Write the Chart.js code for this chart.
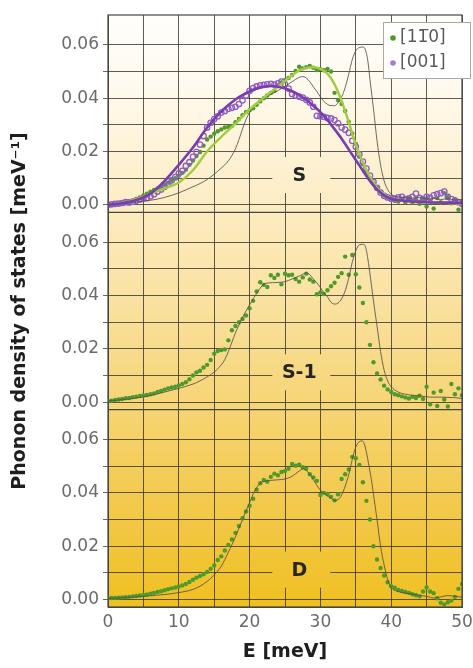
<!DOCTYPE html>
<html>
<head>
<meta charset="utf-8">
<title>Phonon density of states</title>
<script src="https://cdn.jsdelivr.net/npm/chart.js@4.4.1/dist/chart.umd.min.js"></script>
<style>
  html, body { margin: 0; padding: 0; background: #ffffff; }
</style>
</head>
<body>
<canvas id="dos" width="473" height="668"></canvas>
<script>
// ---- measured spectra (E in meV, DOS in meV^-1) ----
const energies = [0,0.5,1,1.5,2,2.5,3,3.5,4,4.5,5,5.5,6,6.5,7,7.5,8,8.5,9,9.5,
  10,10.5,11,11.5,12,12.5,13,13.5,14,14.5,15,15.5,16,16.5,17,17.5,18,18.5,19,19.5,
  20,20.5,21,21.5,22,22.5,23,23.5,24,24.5,25,25.5,26,26.5,27,27.5,28,28.5,29,29.5,
  30,30.5,31,31.5,32,32.5,33,33.5,34,34.5,35,35.5,36,36.5,37,37.5,38,38.5,39,39.5,
  40,40.5,41,41.5,42,42.5,43,43.5,44,44.5,45,45.5,46,46.5,47,47.5,48,48.5,49,49.5,50];

// sample S, [1-10] direction
const dosS110 = [0.0000,0.0001,0.0002,0.0004,0.0006,0.0009,0.0012,0.0016,0.0022,0.0028,
  0.0035,0.0042,0.0049,0.0056,0.0062,0.0068,0.0075,0.0083,0.0092,0.0100,
  0.0110,0.0120,0.0132,0.0150,0.0166,0.0183,0.0198,0.0222,0.0245,0.0256,
  0.0267,0.0276,0.0283,0.0290,0.0292,0.0296,0.0310,0.0322,0.0336,0.0348,
  0.0355,0.0362,0.0375,0.0388,0.0400,0.0410,0.0420,0.0428,0.0448,0.0459,
  0.0468,0.0476,0.0487,0.0502,0.0518,0.0512,0.0516,0.0521,0.0514,0.0506,
  0.0509,0.0505,0.0510,0.0500,0.0420,0.0392,0.0378,0.0352,0.0312,0.0268,
  0.0228,0.0180,0.0152,0.0124,0.0098,0.0080,0.0064,0.0050,0.0036,0.0027,
  0.0019,0.0015,0.0012,0.0020,0.0010,0.0024,0.0008,0.0018,0.0004,0.0022,
  -0.0006,0.0015,-0.0014,0.0026,0.0010,0.0044,0.0030,0.0006,0.0022,-0.0018,
  0.0008];

// sample S, [001] direction
const dosS001 = [0.0000,0.0002,0.0004,0.0005,0.0007,0.0010,0.0009,0.0012,0.0016,0.0020,
  0.0024,0.0026,0.0032,0.0040,0.0050,0.0058,0.0068,0.0078,0.0092,0.0104,
  0.0118,0.0128,0.0146,0.0160,0.0180,0.0198,0.0226,0.0258,0.0290,0.0308,
  0.0322,0.0332,0.0346,0.0352,0.0360,0.0364,0.0368,0.0378,0.0392,0.0410,
  0.0428,0.0438,0.0444,0.0448,0.0450,0.0452,0.0454,0.0451,0.0456,0.0462,
  0.0452,0.0436,0.0416,0.0410,0.0406,0.0402,0.0394,0.0384,0.0368,0.0334,
  0.0332,0.0330,0.0326,0.0324,0.0318,0.0306,0.0290,0.0282,0.0270,0.0240,
  0.0218,0.0190,0.0162,0.0136,0.0110,0.0086,0.0064,0.0046,0.0034,0.0028,
  0.0024,0.0022,0.0028,0.0030,0.0022,0.0024,0.0030,0.0042,0.0026,0.0022,
  0.0030,0.0026,0.0036,0.0040,0.0044,0.0050,0.0030,0.0022,0.0016,0.0010,
  0.0004];

// sample S-1
const dosS1 = [0.0005,0.0006,0.0008,0.0010,0.0012,0.0015,0.0016,0.0019,0.0021,0.0023,
  0.0025,0.0027,0.0030,0.0033,0.0038,0.0042,0.0047,0.0052,0.0055,0.0058,
  0.0063,0.0068,0.0075,0.0086,0.0100,0.0112,0.0118,0.0130,0.0140,0.0158,
  0.0182,0.0192,0.0196,0.0198,0.0232,0.0270,0.0286,0.0300,0.0312,0.0325,
  0.0352,0.0380,0.0415,0.0450,0.0440,0.0432,0.0476,0.0466,0.0478,0.0442,
  0.0482,0.0476,0.0478,0.0462,0.0452,0.0468,0.0482,0.0460,0.0452,0.0405,
  0.0412,0.0406,0.0420,0.0435,0.0448,0.0470,0.0484,0.0546,0.0478,0.0552,
  0.0480,0.0430,0.0372,0.0300,0.0215,0.0150,0.0108,0.0085,0.0062,0.0048,
  0.0038,0.0030,0.0026,0.0022,0.0018,0.0014,0.0020,0.0016,0.0024,0.0012,
  0.0058,-0.0008,0.0036,-0.0014,0.0042,0.0010,-0.0016,0.0068,0.0030,0.0052,
  0.0026];

// sample D
const dosD = [0.0005,0.0006,0.0006,0.0007,0.0008,0.0009,0.0010,0.0012,0.0013,0.0015,
  0.0017,0.0019,0.0022,0.0025,0.0028,0.0031,0.0035,0.0039,0.0042,0.0045,
  0.0049,0.0053,0.0058,0.0066,0.0074,0.0082,0.0088,0.0095,0.0103,0.0115,
  0.0128,0.0148,0.0162,0.0184,0.0205,0.0225,0.0250,0.0276,0.0305,0.0330,
  0.0352,0.0378,0.0412,0.0436,0.0448,0.0442,0.0460,0.0472,0.0466,0.0478,
  0.0482,0.0490,0.0508,0.0502,0.0506,0.0496,0.0490,0.0470,0.0458,0.0445,
  0.0392,0.0400,0.0396,0.0385,0.0372,0.0395,0.0452,0.0470,0.0488,0.0535,
  0.0530,0.0505,0.0440,0.0370,0.0300,0.0200,0.0150,0.0118,0.0090,0.0065,
  0.0050,0.0044,0.0036,0.0032,0.0028,0.0025,0.0020,0.0016,0.0012,0.0030,
  0.0045,0.0030,0.0024,0.0005,-0.0012,-0.0018,-0.0010,-0.0004,0.0010,0.0040,
  0.0058];

// ---- fitted curves for sample S ----
const fitS110E = [0,2,4,6,8,10,12,14,16,18,20,22,24,26,27,28,29,30,31,32,33,34,35,36,37,38,39,40,42,45,50];
const fitS110V = [0,0.0007,0.0022,0.0042,0.0062,0.0084,0.0130,0.0200,0.0255,0.0305,0.0358,0.0402,0.0443,0.0486,0.0504,
  0.0514,0.0516,0.0510,0.0492,0.0452,0.0390,0.0310,0.0225,0.0160,0.0105,0.0064,0.0040,0.0026,0.0014,0.0010,0.0006];

const fitS001E = [0,2,4,6,8,10,12,14,16,18,20,21,22,23,24,25,26,27,28,29,30,31,32,33,34,35,36,37,38,39,40,42,45,50];
const fitS001V = [0,0.0006,0.0018,0.0042,0.0090,0.0150,0.0215,0.0290,0.0350,0.0395,0.0425,0.0436,0.0443,0.0446,0.0443,
  0.0436,0.0426,0.0412,0.0394,0.0372,0.0348,0.0318,0.0284,0.0248,0.0208,0.0168,0.0128,0.0090,0.0058,0.0036,0.0024,
  0.0015,0.0010,0.0008];

// ---- calculated DOS ----
const calcSE = [0,3,6,8,10,12,13,14,15,16,17,17.5,18,18.5,19,19.5,20,20.5,21,22,23,24,25,26,27,27.5,28,28.5,29,29.5,
  30,30.5,31,31.5,32,32.5,33,33.5,34,34.5,35,35.5,36,36.3,36.7,37,37.5,38,38.5,39,39.5,40,41,42,43,44,45,46,47,48,49,50];
const calcSV = [0,0.0008,0.0017,0.0028,0.0045,0.0068,0.0080,0.0095,0.0115,0.0138,0.0165,0.0185,0.0210,0.0245,0.0285,
  0.0320,0.0348,0.0368,0.0382,0.0400,0.0414,0.0428,0.0445,0.0462,0.0478,0.0481,0.0476,0.0462,0.0443,0.0425,
  0.0405,0.0388,0.0377,0.0372,0.0372,0.0383,0.0405,0.0440,0.0490,0.0545,0.0578,0.0590,0.0592,0.0585,0.0540,
  0.0470,0.0360,0.0240,0.0150,0.0090,0.0058,0.0040,0.0030,0.0027,0.0025,0.0028,0.0022,0.0024,0.0020,0.0023,0.0018,0.0020];

const calcS1E = [0,3,6,8,10,12,13,14,15,16,16.5,17,17.5,18,18.5,19,19.5,20,20.5,21,21.5,22,22.5,24,25,26,27,28,28.5,29,
  29.5,30,30.5,31,31.5,32,32.5,33,33.5,34,34.5,35,35.5,36,36.4,36.8,37.2,37.6,38,38.5,39,39.5,40,41,42,43,44,45,46,47,48,49,50];
const calcS1V = [0.0005,0.0012,0.0025,0.0038,0.0052,0.0068,0.0080,0.0095,0.0113,0.0140,0.0160,0.0190,0.0225,0.0260,0.0290,
  0.0318,0.0342,0.0365,0.0388,0.0408,0.0428,0.0442,0.0447,0.0449,0.0452,0.0462,0.0473,0.0484,0.0478,0.0462,
  0.0447,0.0430,0.0410,0.0395,0.0375,0.0368,0.0372,0.0388,0.0418,0.0465,0.0525,0.0568,0.0590,0.0592,0.0580,
  0.0520,0.0440,0.0360,0.0285,0.0190,0.0120,0.0080,0.0058,0.0038,0.0030,0.0026,0.0024,0.0020,0.0019,0.0019,0.0018,0.0017,0.0014];

const calcDE = [0,4,8,10,12,13,14,15,16,16.5,17,17.5,18,18.5,19,19.5,20,20.5,21,21.5,22,23,24,25,26,27,27.6,28,28.5,29,
  29.5,30,30.5,31,31.5,32,32.5,33,33.5,34,34.5,35,35.5,35.9,36.3,36.8,37.2,37.6,38,38.5,39,39.5,40,41,42,43,44,45,46,47,48,49,50];
const calcDV = [0.0004,0.0010,0.0019,0.0026,0.0038,0.0050,0.0068,0.0092,0.0125,0.0150,0.0178,0.0205,0.0235,0.0268,0.0300,
  0.0333,0.0363,0.0396,0.0420,0.0436,0.0443,0.0447,0.0449,0.0452,0.0462,0.0482,0.0490,0.0484,0.0470,0.0450,
  0.0428,0.0410,0.0398,0.0388,0.0380,0.0372,0.0375,0.0392,0.0425,0.0468,0.0525,0.0572,0.0592,0.0595,0.0575,
  0.0510,0.0450,0.0375,0.0300,0.0200,0.0130,0.0075,0.0045,0.0030,0.0024,0.0020,0.0016,0.0012,0.0006,0.0010,0.0015,0.0012,0.0009];

// ---- axes and labels ----
const xTickValues = [0,5,10,15,20,25,30,35,40,45,50];
const xTickLabels = ['0','','10','','20','','30','','40','','50'];
const yTickValues = [0,0.01,0.02,0.03,0.04,0.05,0.06];
const yTickLabels = ['0.00','','0.02','','0.04','','0.06'];
const panelNames = ['S','S-1','D'];
const seriesNames = ['[11\u03050]','[001]'];

const pairs = (xs, ys) => xs.map((x, i) => ({ x, y: ys[i] }));

const FONT = "'DejaVu Sans', 'Open Sans', sans-serif";
const GRID = 'rgba(55,50,44,0.8)';
const GREEN_DOT = '#4f9a2c';
const PURPLE = '#7a3cae';
const PURPLE_RING = '#8d5cc6';
const CALC = 'rgba(85,80,75,0.85)';

function lineSet(yAxisID, xs, ys, color, width) {
  return {
    yAxisID, data: pairs(xs, ys), showLine: true, borderColor: color, borderWidth: width,
    pointRadius: 0, cubicInterpolationMode: 'monotone', fill: false
  };
}
function dotSet(yAxisID, ys) {
  return {
    yAxisID, data: pairs(energies, ys), pointRadius: 2.2,
    pointBackgroundColor: GREEN_DOT, pointBorderWidth: 0
  };
}

const datasets = [
  lineSet('yS', fitS001E, fitS001V, PURPLE, 2.6),
  lineSet('yS', fitS110E, fitS110V, '#9fcd3e', 2.4),
  lineSet('yS', calcSE, calcSV, CALC, 1),
  lineSet('yS1', calcS1E, calcS1V, CALC, 1),
  lineSet('yD', calcDE, calcDV, CALC, 1),
  {
    yAxisID: 'yS', data: pairs(energies, dosS001), pointRadius: 2.7,
    pointBackgroundColor: 'rgba(255,255,255,0)', pointBorderColor: PURPLE_RING, pointBorderWidth: 1.3
  },
  dotSet('yS', dosS110),
  dotSet('yS1', dosS1),
  dotSet('yD', dosD)
];

// gradient behind the plotting area
const backdrop = {
  id: 'backdrop',
  beforeDraw(chart, args, opts) {
    const { ctx, chartArea: a } = chart;
    const g = ctx.createLinearGradient(0, a.top, 0, a.bottom);
    opts.stops.forEach(([o, c]) => g.addColorStop(o, c));
    chart.$backdrop = g;
    ctx.save();
    ctx.fillStyle = g;
    ctx.fillRect(a.left, a.top, a.right - a.left, a.bottom - a.top);
    ctx.restore();
  }
};

// outer frame, panel dividers and the sample tags
const plotDecor = {
  id: 'plotDecor',
  afterDatasetsDraw(chart, args, opts) {
    const { ctx, chartArea: a, scales } = chart;
    ctx.save();
    ctx.strokeStyle = '#454545';
    ctx.lineWidth = 1.2;
    ctx.strokeRect(a.left, a.top, a.right - a.left, a.bottom - a.top);
    ['yS1', 'yD'].forEach(id => {
      ctx.beginPath();
      ctx.moveTo(a.left, scales[id].top);
      ctx.lineTo(a.right, scales[id].top);
      ctx.stroke();
    });
    ['yS', 'yS1', 'yD'].forEach((id, i) => {
      const cx = scales.x.getPixelForValue(27.3);
      const cy = scales[id].getPixelForValue(0.0112);
      ctx.fillStyle = chart.$backdrop;
      ctx.fillRect(cx - 29, cy - 18, 58, 36);
      ctx.fillStyle = '#262626';
      ctx.font = 'bold 19px ' + FONT;
      ctx.textAlign = 'center';
      ctx.textBaseline = 'middle';
      ctx.fillText(panelNames[i], cx - 2, cy + 1);
    });
    ctx.restore();
  }
};

// key for the two scattering directions
const keyBox = {
  id: 'keyBox',
  afterDatasetsDraw(chart) {
    const { ctx } = chart;
    const colors = [GREEN_DOT, '#a47cd6'];
    ctx.save();
    ctx.fillStyle = '#ffffff';
    ctx.fillRect(383, 22, 88, 57);
    ctx.strokeStyle = '#a8a8a8';
    ctx.lineWidth = 1;
    ctx.strokeRect(383.5, 22.5, 87, 56);
    ctx.font = '17px ' + FONT;
    ctx.textBaseline = 'middle';
    ctx.textAlign = 'left';
    colors.forEach((c, i) => {
      const cy = 38 + i * 25;
      ctx.fillStyle = c;
      ctx.beginPath();
      ctx.arc(393, cy, 2.8, 0, Math.PI * 2);
      ctx.fill();
      ctx.fillStyle = '#5a5a5a';
      ctx.fillText(seriesNames[i], 400, cy);
    });
    ctx.restore();
  }
};

function panelAxis(weight, withTitle) {
  return {
    type: 'linear', position: 'left', stack: 'panels', stackWeight: 1, weight,
    min: -0.0028, max: 0.0712,
    afterBuildTicks: axis => { axis.ticks = yTickValues.map(v => ({ value: v })); },
    afterFit: axis => { axis.width = 108; axis.paddingTop = 0; axis.paddingBottom = 0; },
    grid: { color: GRID, lineWidth: 1, tickLength: 5, tickColor: '#6a6a6a' },
    border: { display: true, color: '#4a4a4a', width: 1 },
    ticks: {
      autoSkip: false, padding: 4, color: '#6b6b6b', font: { family: FONT, size: 17 },
      callback: (v, i) => yTickLabels[i]
    },
    title: {
      display: withTitle, text: 'Phonon density of states [meV\u207B\u00B9]', color: '#1e1e1e',
      font: { family: FONT, size: 19, weight: 'bold' }, padding: { top: 9, bottom: 0 }
    }
  };
}

new Chart(document.getElementById('dos'), {
  type: 'scatter',
  data: { datasets },
  plugins: [backdrop, plotDecor, keyBox],
  options: {
    responsive: false, animation: false, events: [],
    layout: { padding: { top: 15, right: 11, bottom: 0, left: 0 } },
    scales: {
      x: {
        type: 'linear', position: 'bottom', min: 0, max: 50,
        afterBuildTicks: axis => { axis.ticks = xTickValues.map(v => ({ value: v })); },
        afterFit: axis => { axis.height = 61; axis.paddingLeft = 0; axis.paddingRight = 0; },
        grid: { color: GRID, lineWidth: 1, drawTicks: false },
        border: { display: true, color: '#4a4a4a', width: 1 },
        ticks: {
          padding: 5, color: '#6b6b6b', font: { family: FONT, size: 17 }, maxRotation: 0, autoSkip: false,
          callback: (v, i) => xTickLabels[i]
        },
        title: {
          display: true, text: 'E [meV]', color: '#1e1e1e',
          font: { family: FONT, size: 19, weight: 'bold' }, padding: { top: 0, bottom: 5 }
        }
      },
      yS: panelAxis(3, false),
      yS1: panelAxis(2, true),
      yD: panelAxis(1, false)
    },
    plugins: {
      legend: { display: false },
      tooltip: { enabled: false },
      backdrop: {
        stops: [[0, '#fffefb'], [0.12, '#fffaee'], [0.3, '#fdeec8'], [0.5, '#f9e09c'],
                [0.7, '#f5d26a'], [0.86, '#f2c744'], [1, '#f0c020']]
      }
    }
  }
});
</script>
</body>
</html>
